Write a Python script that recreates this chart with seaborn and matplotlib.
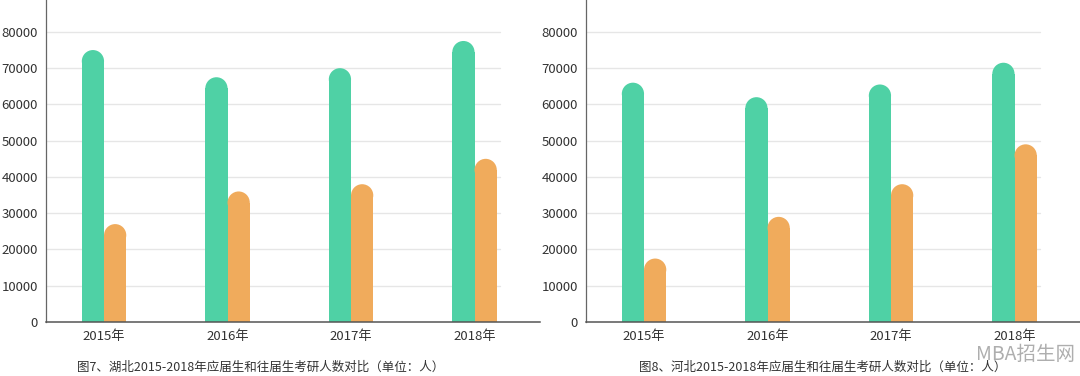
import matplotlib
matplotlib.use("Agg")
import matplotlib.pyplot as plt
import seaborn as sns
import pandas as pd
from matplotlib.patches import Ellipse

# data (values at the top of the rounded bars)
years = ["2015年", "2016年", "2017年", "2018年"]
groups = ["应届生", "往届生"]
hubei_fresh = [75000, 67500, 70000, 77500]
hubei_past = [27000, 36000, 38000, 45000]
hebei_fresh = [66000, 62000, 65500, 71500]
hebei_past = [17500, 29000, 38000, 49000]
captions = ["图7、湖北2015-2018年应届生和往届生考研人数对比（单位：人）",
            "图8、河北2015-2018年应届生和往届生考研人数对比（单位：人）"]
yticks = [0, 10000, 20000, 30000, 40000, 50000, 60000, 70000, 80000]

green = "#4fd1a5"
orange = "#f0ab5c"

sns.set_style("white")
plt.rcParams["font.family"] = ["Noto Sans CJK SC", "DejaVu Sans"]


def make_df(fresh, past):
    return pd.DataFrame({
        "year": years * 2,
        "group": [groups[0]] * 4 + [groups[1]] * 4,
        "count": fresh + past,
    })


def draw_panel(ax, df, caption, cap_x):
    sns.barplot(data=df, x="year", y="count", hue="group", order=years,
                hue_order=groups, palette=[green, orange], width=0.36,
                saturation=1, legend=False, ax=ax, linewidth=0)
    ax.set_xlim(-0.47, 3.53)
    ax.set_ylim(0, 88800)
    ax.set_xlabel("")
    ax.set_ylabel("")
    ax.set_yticks(yticks)
    ax.set_yticklabels([str(t) for t in yticks])
    for t in yticks[1:]:
        ax.axhline(t, xmin=0, xmax=0.92, color="#e6e6e6", lw=1, zorder=0)
    for s in ["top", "right"]:
        ax.spines[s].set_visible(False)
    ax.spines["left"].set_color("#666666")
    ax.spines["bottom"].set_color("#555555")
    ax.spines["left"].set_linewidth(0.9)
    ax.spines["bottom"].set_linewidth(1.1)
    ax.tick_params(axis="both", which="major", length=0, labelsize=9.5,
                   labelcolor="#333333", pad=6)
    ax.set_xticks([0.53, 1.53, 2.53], minor=True)
    ax.tick_params(axis="x", which="minor", length=6, color="#555555", width=1)
    ax.text(cap_x, -0.14, caption, transform=ax.transAxes, ha="center",
            va="center", fontsize=9, color="#333333")


fig = plt.figure(figsize=(10.8, 3.76), dpi=100)
ax1 = fig.add_axes([46 / 1080, 54 / 376, 494 / 1080, 322 / 376])
ax2 = fig.add_axes([586 / 1080, 54 / 376, 494 / 1080, 322 / 376])

draw_panel(ax1, make_df(hubei_fresh, hubei_past), captions[0], 0.435)
draw_panel(ax2, make_df(hebei_fresh, hebei_past), captions[1], 0.48)

# turn the bar tops into half circles
fig.canvas.draw()
for ax in [ax1, ax2]:
    px_x = ax.transData.transform((1, 0))[0] - ax.transData.transform((0, 0))[0]
    px_y = ax.transData.transform((0, 10000))[1] - ax.transData.transform((0, 0))[1]
    for p in list(ax.patches):
        w = p.get_width()
        h = p.get_height()
        if h <= 0:
            continue
        ry = (w / 2) * px_x / px_y * 10000
        x0 = p.get_x()
        p.set_height(h - ry)
        cap = Ellipse((x0 + w / 2, h - ry), w, 2 * ry,
                      facecolor=p.get_facecolor(), edgecolor="none", lw=0)
        ax.add_patch(cap)

fig.text(1025 / 1080, 1 - 355 / 376, "MBA招生网", ha="center", va="center",
         fontsize=14, color="#9a9a9a", alpha=0.8, fontweight="light")

fig.savefig("out.png", dpi=100)
